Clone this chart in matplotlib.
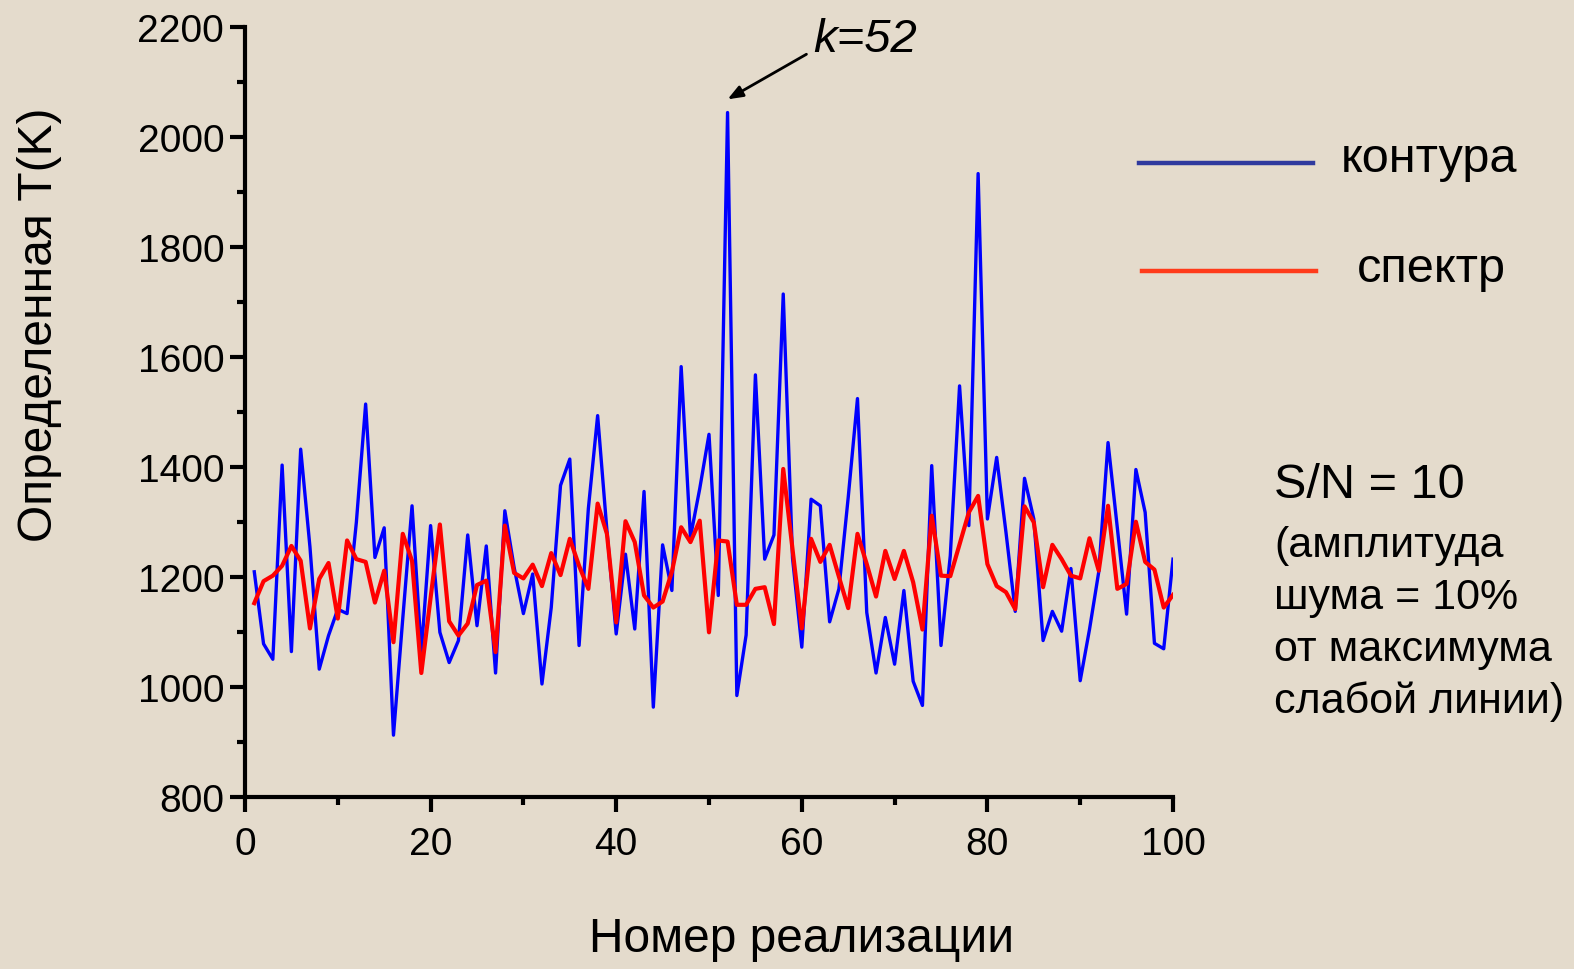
import matplotlib
matplotlib.use("Agg")
import matplotlib.pyplot as plt
from matplotlib.lines import Line2D
from matplotlib.ticker import MultipleLocator

plt.rcParams['font.family'] = ['Liberation Sans', 'DejaVu Sans']

# realisation number
realization = list(range(1, 101))

# T determined from line contours (blue)
t_contour = [1210, 1079, 1051, 1404, 1065, 1433, 1255, 1033, 1094, 1142,
             1134, 1300, 1515, 1236, 1290, 913, 1125, 1330, 1064, 1294,
             1100, 1045, 1085, 1277, 1112, 1257, 1026, 1321, 1218, 1134,
             1206, 1006, 1145, 1367, 1415, 1076, 1325, 1494, 1285, 1097,
             1242, 1106, 1356, 964, 1259, 1176, 1583, 1273, 1361, 1460,
             1167, 2045, 985, 1095, 1568, 1233, 1277, 1715, 1235, 1073,
             1342, 1330, 1119, 1179, 1345, 1525, 1136, 1026, 1127, 1042,
             1176, 1011, 967, 1403, 1076, 1239, 1548, 1294, 1934, 1306,
             1418, 1282, 1138, 1380, 1306, 1085, 1138, 1102, 1216, 1012,
             1105, 1210, 1445, 1290, 1133, 1396, 1318, 1080, 1070, 1233]

# T determined from spectrum (red)
t_spectrum = [1153, 1193, 1203, 1221, 1257, 1230, 1107, 1197, 1226, 1125,
              1267, 1233, 1228, 1154, 1212, 1082, 1279, 1230, 1026, 1163,
              1296, 1120, 1094, 1116, 1186, 1194, 1064, 1294, 1208, 1198,
              1223, 1184, 1244, 1204, 1270, 1221, 1179, 1334, 1279, 1118,
              1302, 1264, 1167, 1145, 1156, 1210, 1291, 1264, 1303, 1100,
              1267, 1265, 1150, 1150, 1179, 1182, 1115, 1397, 1251, 1107,
              1270, 1228, 1259, 1201, 1144, 1279, 1224, 1165, 1248, 1197,
              1248, 1191, 1105, 1312, 1203, 1202, 1260, 1318, 1348, 1224,
              1184, 1173, 1142, 1329, 1300, 1182, 1259, 1233, 1203, 1198,
              1271, 1212, 1330, 1179, 1188, 1301, 1228, 1214, 1145, 1168]

x_ticks = [0, 20, 40, 60, 80, 100]
y_ticks = [800, 1000, 1200, 1400, 1600, 1800, 2000, 2200]

BG = '#e4dbcc'
W, H = 1574, 970
fig = plt.figure(figsize=(W / 100, H / 100), dpi=100, facecolor=BG)
ax = fig.add_axes([245 / W, 1 - 798.3 / H, 928 / W, 770 / H])
ax.set_facecolor(BG)

ax.plot(realization, t_contour, color='#0000ff', lw=2.4, zorder=3)
ax.plot(realization, t_spectrum, color='#ff0000', lw=3.0, zorder=4)

ax.set_xlim(0, 100)
ax.set_ylim(800, 2200)
ax.set_xticks(x_ticks)
ax.set_yticks(y_ticks)
ax.xaxis.set_minor_locator(MultipleLocator(10))
ax.yaxis.set_minor_locator(MultipleLocator(100))

for s in ['top', 'right']:
    ax.spines[s].set_visible(False)
for s in ['left', 'bottom']:
    ax.spines[s].set_linewidth(3)
    ax.spines[s].set_color('black')

ax.tick_params(which='major', direction='out', length=11, width=3,
               labelsize=28, colors='black')
ax.tick_params(which='minor', direction='out', length=6, width=3)
ax.tick_params(axis='x', which='major', pad=10)
ax.tick_params(axis='y', which='major', pad=4)

# axis titles
fig.text(802 / W, 1 - 940 / H, 'Номер реализации', ha='center', va='center',
         fontsize=34.5)
fig.text(40 / W, 1 - 325 / H, 'Определенная T(K)', ha='center', va='center',
         rotation=90, fontsize=34.5)

# annotation k=52
ax.annotate('', xy=(52, 2069), xytext=(60.5, 2151),
            arrowprops=dict(arrowstyle='-|>,head_length=0.9,head_width=0.35',
                            color='black', lw=2, shrinkA=0, shrinkB=0),
            annotation_clip=False)
ax.text(61.2, 2178, 'k=52', style='italic', fontsize=34, ha='left',
        va='center', clip_on=False)

# legend drawn manually
fig.add_artist(Line2D([1139 / W, 1313 / W], [1 - 163.5 / H, 1 - 163.5 / H],
                      color='#2f3a9e', lw=3.2, transform=fig.transFigure))
fig.text(1341 / W, 1 - 160 / H, 'контура', ha='left', va='center', fontsize=35)
fig.add_artist(Line2D([1142 / W, 1316 / W], [1 - 272 / H, 1 - 272 / H],
                      color='#ff3b1a', lw=3.2, transform=fig.transFigure))
fig.text(1357 / W, 1 - 270 / H, 'спектр', ha='left', va='center', fontsize=35)

# S/N annotation
fig.text(1274 / W, 1 - 486 / H, 'S/N = 10', ha='left', va='center', fontsize=35)
side_lines = ['(амплитуда', 'шума = 10%', 'от максимума', 'слабой линии)']
for i, t in enumerate(side_lines):
    fig.text(1274 / W, 1 - (546 + 52 * i) / H, t, ha='left', va='center',
             fontsize=31)

fig.savefig('out.png', dpi=100, facecolor=BG)
